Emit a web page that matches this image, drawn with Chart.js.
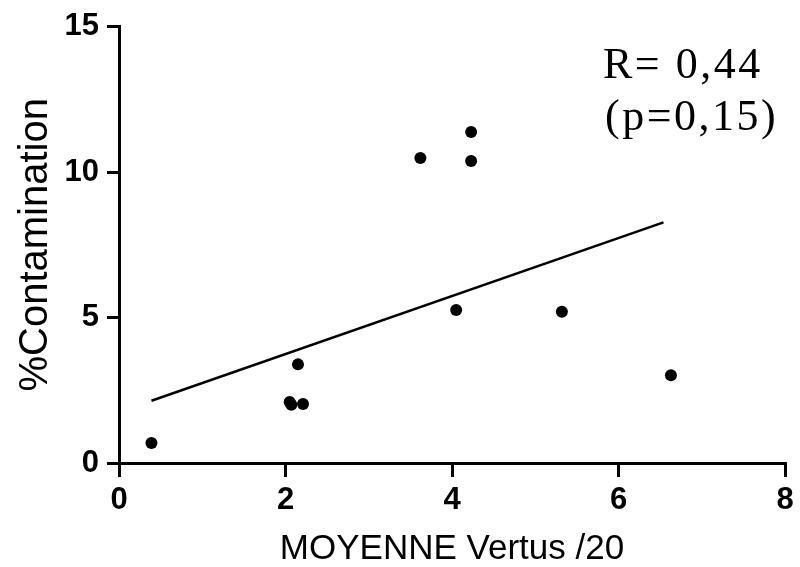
<!DOCTYPE html>
<html>
<head>
<meta charset="utf-8">
<script src="https://cdn.jsdelivr.net/npm/chart.js@4"></script>
<style>
  html, body { margin: 0; padding: 0; background: #fff; }
  canvas { display: block; }
</style>
</head>
<body>
<canvas id="chart" width="800" height="567"></canvas>
<script>
// Data
const vertus = [0.39, 2.05, 2.07, 2.21, 2.15, 3.62, 4.23, 4.23, 4.05, 5.32, 6.63];
const contamination = [0.69, 2.10, 2.00, 2.03, 3.39, 10.48, 11.38, 10.38, 5.26, 5.20, 3.02];
const fitX = [0.39, 6.54];
const fitY = [2.14, 8.27];
const xTicks = [0, 2, 4, 6, 8];
const yTicks = [0, 5, 10, 15];
const statLines = ['R= 0,44', '(p=0,15)'];

const points = vertus.map((x, i) => ({ x: x, y: contamination[i] }));
const fitLine = fitX.map((x, i) => ({ x: x, y: fitY[i] }));

// R / p text in the top right corner
const statsPlugin = {
    id: 'stats',
    afterDraw(chart) {
        const ctx = chart.ctx;
        ctx.save();
        ctx.font = '44px "Liberation Serif", serif';
        ctx.letterSpacing = '2.5px';
        ctx.fillStyle = '#000';
        ctx.textBaseline = 'alphabetic';
        ctx.textAlign = 'left';
        ctx.fillText(statLines[0], 603, 78);
        ctx.fillText(statLines[1], 605, 130);
        ctx.restore();
    }
};

const tickFont = { family: '"Liberation Sans", Arial, sans-serif', size: 31, weight: 'bold' };

new Chart(document.getElementById('chart').getContext('2d'), {
    type: 'scatter',
    data: {
        datasets: [
            {
                label: 'points',
                data: points,
                backgroundColor: '#000',
                borderWidth: 0,
                pointRadius: 6
            },
            {
                label: 'fit',
                type: 'line',
                data: fitLine,
                borderColor: '#000',
                borderWidth: 2.5,
                pointRadius: 0,
                fill: false
            }
        ]
    },
    options: {
        responsive: false,
        animation: false,
        layout: { padding: { left: 0, right: 15, top: 22, bottom: 0 } },
        plugins: {
            legend: { display: false },
            tooltip: { enabled: false }
        },
        scales: {
            x: {
                type: 'linear',
                min: xTicks[0],
                max: xTicks[xTicks.length - 1],
                afterBuildTicks: scale => { scale.ticks = xTicks.map(v => ({ value: v })); },
                afterFit: scale => { scale.height = 104; },
                border: { display: true, color: '#000', width: 3 },
                grid: { display: true, drawOnChartArea: false, drawTicks: true, tickLength: 14, color: '#000', lineWidth: 3 },
                ticks: { color: '#000', font: tickFont, padding: 5, maxRotation: 0 },
                title: {
                    display: true,
                    text: 'MOYENNE Vertus /20',
                    color: '#000',
                    font: { family: '"Liberation Sans", Arial, sans-serif', size: 35, lineHeight: 1 },
                    padding: { top: 0, bottom: 0 }
                }
            },
            y: {
                type: 'linear',
                min: yTicks[0],
                max: yTicks[yTicks.length - 1],
                afterBuildTicks: scale => { scale.ticks = yTicks.map(v => ({ value: v })); },
                afterFit: scale => { scale.width = 119; },
                border: { display: true, color: '#000', width: 3 },
                grid: { display: true, drawOnChartArea: false, drawTicks: true, tickLength: 12, color: '#000', lineWidth: 3 },
                ticks: { color: '#000', font: tickFont, padding: 8 },
                title: {
                    display: true,
                    text: '%Contamination',
                    color: '#000',
                    font: { family: '"Liberation Sans", Arial, sans-serif', size: 40, lineHeight: 1.2 },
                    padding: { top: 12, bottom: 0 }
                }
            }
        }
    },
    plugins: [statsPlugin]
});
</script>
</body>
</html>
